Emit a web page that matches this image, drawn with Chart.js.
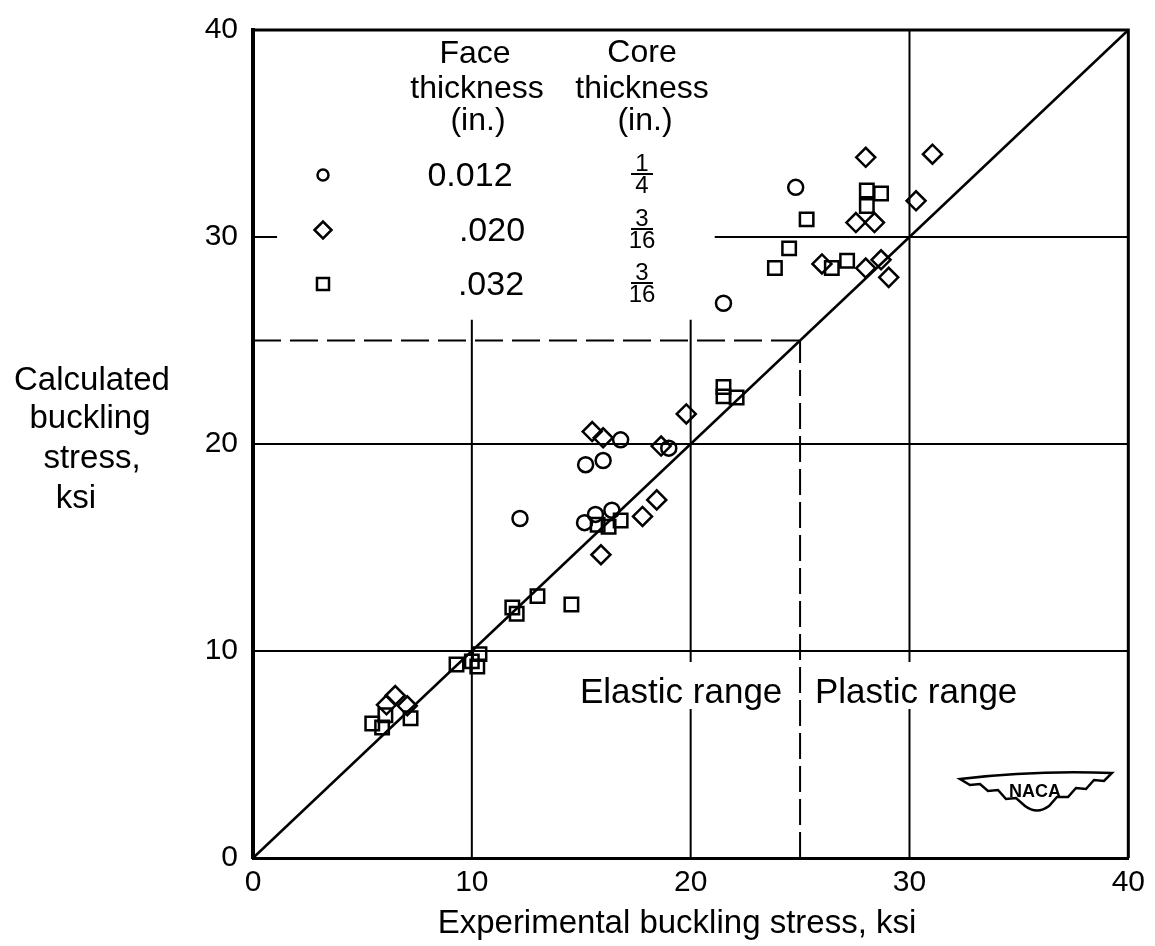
<!DOCTYPE html>
<html>
<head>
<meta charset="utf-8">
<script src="https://cdn.jsdelivr.net/npm/chart.js@4.4.0/dist/chart.umd.min.js"></script>
<style>
  html, body { margin: 0; padding: 0; background: #fff; }
  #wrap { width: 1155px; height: 946px; position: relative; }
</style>
</head>
<body>
<div id="wrap"><canvas id="myChart"></canvas></div>
<script>
// Calculated vs experimental buckling stress of sandwich plates (ksi)

const xTicks = [0, 10, 20, 30, 40]
const yTicks = [0, 10, 20, 30, 40]

// face 0.012 in., core 1/4 in.  (circles)
const expFace012  = [24.8, 21.5, 16.8, 19.0, 15.2, 16.0, 12.2, 15.15, 15.65, 16.4]
const calcFace012 = [32.4, 26.8, 20.2, 19.8, 19.0, 19.2, 16.4, 16.2, 16.6, 16.8]

// face .020 in., core 3/16 in.  (diamonds)
const expFace020  = [28.0, 31.05, 30.3, 27.55, 28.4, 26.0, 28.0, 28.7, 29.05, 19.8, 15.5, 16.0, 18.65, 17.8, 18.45, 15.9, 6.5, 6.1, 7.05]
const calcFace020 = [33.85, 34.0, 31.75, 30.7, 30.7, 28.7, 28.5, 28.9, 28.05, 21.45, 20.6, 20.3, 19.9, 16.5, 17.3, 14.65, 7.85, 7.4, 7.35]

// face .032 in., core 3/16 in.  (squares)
const expFace032  = [28.05, 28.7, 28.05, 25.3, 24.5, 23.85, 26.45, 27.15, 21.5, 21.5, 22.1, 15.75, 16.25, 16.8, 13.0, 11.85, 12.05, 14.55, 10.35, 10.0, 10.25, 9.3, 6.05, 5.45, 5.9, 7.2]
const calcFace032 = [32.25, 32.1, 31.5, 30.85, 29.45, 28.5, 28.5, 28.85, 22.75, 22.3, 22.25, 16.1, 16.0, 16.3, 12.65, 12.1, 11.8, 12.25, 9.85, 9.5, 9.25, 9.35, 6.9, 6.5, 6.3, 6.75]

// line of agreement (calculated = experimental)
const agreeX = [0, 40]
const agreeY = [0, 40]

// elastic / plastic boundary, ksi
const elasticLimit = 25

// ruled grid as drawn on the sheet: [value, from, to]
const vRules = [[10, 0, 26], [20, 0, 26], [30, 0, 40]]
const hRules = [[10, 0, 40], [20, 0, 40], [30, 21.1, 40], [30, 0, 1.1]]

// legend table
const faceThickness = ['0.012', '.020', '.032']
const coreThickness = [['1', '4'], ['3', '16'], ['3', '16']]
const markerStyles = ['circle', 'rectRot', 'rect']

const FONT = "'Liberation Sans', Arial, sans-serif"
Chart.defaults.font.family = FONT
Chart.defaults.color = '#000'

function pts(xs, ys) {
    return xs.map(function (x, i) { return { x: x, y: ys[i] } })
}

function rule(data, dash) {
    return {
        type: 'line',
        data: data,
        borderColor: '#000',
        borderWidth: 2,
        borderDash: dash || [],
        pointRadius: 0,
        fill: false,
        clip: 4
    }
}

function marks(xs, ys, style, r) {
    return {
        type: 'scatter',
        data: pts(xs, ys),
        pointStyle: style,
        pointRadius: r,
        pointBorderWidth: 2.5,
        pointBorderColor: '#000',
        pointBackgroundColor: 'rgba(0,0,0,0)',
        clip: false
    }
}

const datasets = [
    marks(expFace012, calcFace012, 'circle', 7.5),
    marks(expFace020, calcFace020, 'rectRot', 9.5),
    marks(expFace032, calcFace032, 'rect', 9.5),
    Object.assign(rule(pts(agreeX, agreeY)), { borderWidth: 2.5 })
]
vRules.forEach(function (r) {
    datasets.push(rule([{ x: r[0], y: r[1] }, { x: r[0], y: r[2] }]))
})
hRules.forEach(function (r) {
    datasets.push(rule([{ x: r[1], y: r[0] }, { x: r[2], y: r[0] }]))
})
// dashed limit lines
datasets.push(rule([{ x: 0, y: elasticLimit }, { x: elasticLimit, y: elasticLimit }], [28, 9]))
datasets.push(rule([{ x: elasticLimit, y: 0 }, { x: elasticLimit, y: elasticLimit }], [26, 7]))

const paperText = {
    id: 'paperText',
    beforeDatasetsDraw: function (chart) {
        const ctx = chart.ctx, a = chart.chartArea
        ctx.save()
        ctx.strokeStyle = '#000'
        ctx.lineWidth = 3
        ctx.beginPath()
        ctx.moveTo(a.left, a.top)
        ctx.lineTo(a.right, a.top)
        ctx.lineTo(a.right, a.bottom)
        ctx.stroke()
        ctx.restore()
    },
    afterDatasetsDraw: function (chart) {
        const ctx = chart.ctx
        ctx.save()
        ctx.fillStyle = '#000'
        ctx.textBaseline = 'alphabetic'

        // y title, horizontal lines
        ctx.font = '33px ' + FONT
        ctx.textAlign = 'center'
        ctx.fillText('Calculated', 92, 390)
        ctx.fillText('buckling', 90, 428)
        ctx.fillText('stress,', 92, 468)
        ctx.fillText('ksi', 76, 508)

        // x title
        ctx.fillText('Experimental buckling stress, ksi', 677, 933)

        // legend headers
        ctx.font = '32px ' + FONT
        ctx.fillText('Face', 475, 63)
        ctx.fillText('thickness', 477, 98)
        ctx.fillText('(in.)', 478, 130)
        ctx.fillText('Core', 642, 62)
        ctx.fillText('thickness', 642, 98)
        ctx.fillText('(in.)', 645, 130)

        const rowY = [175, 230, 284]
        const faceX = [470, 492, 491]
        const mSize = [5.5, 8.5, 8.5]
        for (let i = 0; i < faceThickness.length; i++) {
            ctx.fillStyle = '#000'
            ctx.font = '34px ' + FONT
            ctx.textAlign = 'center'
            ctx.fillText(faceThickness[i], faceX[i], rowY[i] + 11)
            // fraction
            ctx.font = '24px ' + FONT
            ctx.fillText(coreThickness[i][0], 642, rowY[i] - 4)
            ctx.fillText(coreThickness[i][1], 642, rowY[i] + 18)
            ctx.fillRect(631, rowY[i] - 2, 22, 2)
            // hollow marker
            ctx.strokeStyle = '#000'
            ctx.fillStyle = 'rgba(0,0,0,0)'
            ctx.lineWidth = 2.5
            Chart.helpers.drawPoint(ctx, {
                pointStyle: markerStyles[i], radius: mSize[i], borderWidth: 2.5
            }, 323, rowY[i])
        }

        // elastic / plastic labels with paper showing through the rules
        ctx.font = '35px ' + FONT
        ctx.textAlign = 'left'
        ctx.fillStyle = '#fff'
        ctx.fillRect(577, 662, 210, 47)
        ctx.fillRect(813, 662, 212, 47)
        ctx.fillStyle = '#000'
        ctx.fillText('Elastic range', 580, 703)
        ctx.fillText('Plastic range', 815, 703)

        // NACA wings
        ctx.lineWidth = 2.5
        ctx.strokeStyle = '#000'
        ctx.beginPath()
        ctx.moveTo(960, 779)
        ctx.quadraticCurveTo(1035, 770, 1112, 773)
        ctx.lineTo(1104, 781)
        ctx.lineTo(1094, 780)
        ctx.lineTo(1086, 789)
        ctx.lineTo(1076, 788)
        ctx.lineTo(1068, 797)
        ctx.lineTo(1057, 797)
        ctx.lineTo(1049, 806)
        ctx.quadraticCurveTo(1037, 815, 1025, 806)
        ctx.lineTo(1016, 798)
        ctx.lineTo(1006, 799)
        ctx.lineTo(998, 790)
        ctx.lineTo(988, 791)
        ctx.lineTo(980, 784)
        ctx.lineTo(970, 785)
        ctx.closePath()
        ctx.stroke()
        ctx.font = 'bold 18px ' + FONT
        ctx.textAlign = 'center'
        ctx.fillText('NACA', 1035, 797)
        ctx.restore()
    }
}

const config = {
    type: 'scatter',
    data: { datasets: datasets },
    options: {
        responsive: true,
        maintainAspectRatio: false,
        animation: false,
        layout: { padding: { top: 15, right: 23, bottom: 0, left: 0 } },
        plugins: {
            legend: { display: false },
            tooltip: { enabled: false }
        },
        scales: {
            x: {
                type: 'linear',
                min: 0,
                max: 40,
                afterBuildTicks: function (s) { s.ticks = xTicks.map(function (v) { return { value: v } }) },
                afterFit: function (s) { s.height = 88 },
                grid: { display: false, drawTicks: false },
                border: { display: true, color: '#000', width: 3 },
                ticks: { padding: 10, font: { size: 30, lineHeight: 1 }, color: '#000' }
            },
            y: {
                type: 'linear',
                min: 0,
                max: 40,
                afterBuildTicks: function (s) { s.ticks = yTicks.map(function (v) { return { value: v } }) },
                afterFit: function (s) { s.width = 253 },
                grid: { display: false, drawTicks: false },
                border: { display: true, color: '#000', width: 4 },
                ticks: { padding: 15, font: { size: 30, lineHeight: 1 }, color: '#000' }
            }
        }
    },
    plugins: [paperText]
}

var myChart = new Chart(document.getElementById('myChart'), config)
</script>
</body>
</html>
